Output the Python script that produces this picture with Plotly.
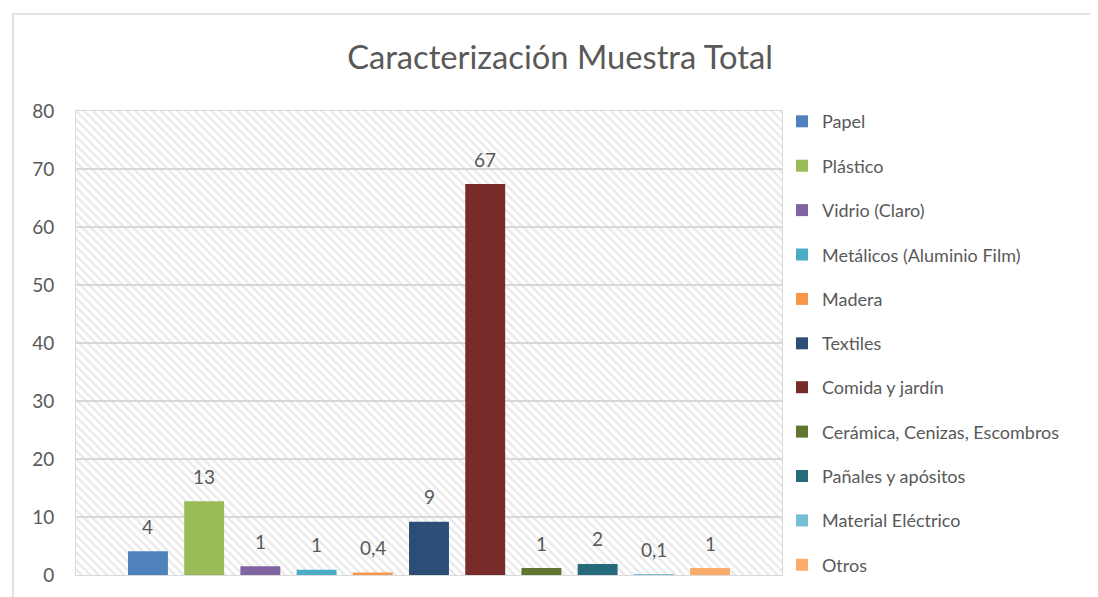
import plotly.graph_objects as go

# Datos de la caracterización
categorias = ["Papel", "Plástico", "Vidrio (Claro)", "Metálicos (Aluminio Film)", "Madera",
              "Textiles", "Comida y jardín", "Cerámica, Cenizas, Escombros",
              "Pañales y apósitos", "Material Eléctrico", "Otros"]
valores = [4.1, 12.7, 1.5, 0.9, 0.45, 9.2, 67.4, 1.2, 1.9, 0.15, 1.2]
etiquetas = ["4", "13", "1", "1", "0,4", "9", "67", "1", "2", "0,1", "1"]
colores = ["#4f81bd", "#9bbb59", "#8064a2", "#4bacc6", "#f79646", "#2c4d75",
           "#772c2a", "#5f7530", "#276a7c", "#72bfd6", "#fbac6a"]
y_ticks = [0, 10, 20, 30, 40, 50, 60, 70, 80]

FONT = "Lato, Roboto, sans-serif"
GRIS = "#595959"

n = len(categorias)
pos = list(range(n))
x_min, x_max = -1.28, n - 1 + 1.28

fig = go.Figure()

# fondo tramado del área de trazado
fig.add_trace(go.Bar(
    x=[(x_min + x_max) / 2], y=[y_ticks[-1]], width=[x_max - x_min],
    marker=dict(color="rgba(0,0,0,0)", line=dict(width=0),
                pattern=dict(shape="\\", fgcolor="#d4d4d4", bgcolor="rgba(0,0,0,0)",
                             size=6, solidity=0.4)),
    showlegend=False, hoverinfo="skip"))

for i, (cat, val, col) in enumerate(zip(categorias, valores, colores)):
    fig.add_trace(go.Bar(x=[pos[i]], y=[val], width=0.71, name=cat,
                         marker=dict(color=col, line=dict(width=0)),
                         legendgroup=cat, legend="legend" if i < 6 else "legend2"))
    fig.add_annotation(x=pos[i], y=val, text=etiquetas[i], showarrow=False,
                       yanchor="middle", yshift=25,
                       font=dict(family=FONT, size=19, color=GRIS))

# borde exterior del gráfico
fig.add_shape(type="rect", xref="paper", yref="paper",
              x0=-0.0892, x1=1.6, y0=-0.2, y1=1.209,
              line=dict(color="#d9d9d9", width=1.5), fillcolor="rgba(0,0,0,0)")

leyenda = dict(xanchor="left", yanchor="top", traceorder="grouped", tracegroupgap=18,
               font=dict(family=FONT, size=18, color=GRIS), itemwidth=30,
               bgcolor="rgba(0,0,0,0)")

# la página añade 8 px de margen, por eso 1090x589
fig.update_layout(
    width=1090, height=589,
    barmode="overlay",
    title=dict(text="Caracterización Muestra Total", x=552 / 1090, xanchor="center",
               y=1 - 50 / 589, yanchor="middle",
               font=dict(family=FONT, size=32.7, color=GRIS)),
    margin=dict(l=68, r=316, t=103, b=22, autoexpand=False),
    plot_bgcolor="white", paper_bgcolor="white",
    font=dict(family=FONT, color=GRIS),
    legend=dict(leyenda, x=1.0, y=1.017),
    legend2=dict(leyenda, x=1.0, y=(575 - 369) / 464),
)
fig.update_xaxes(range=[x_min, x_max], showticklabels=False, showgrid=False,
                 zeroline=False, showline=True, linecolor="#d9d9d9", mirror=True)
fig.update_yaxes(range=[0, 80], tickvals=y_ticks, showgrid=True, gridcolor="#d9d9d9",
                 gridwidth=1.5, zeroline=False, showline=True, linecolor="#d9d9d9",
                 mirror=True, ticklabelstandoff=17,
                 tickfont=dict(family=FONT, size=19, color=GRIS))

fig.write_html("out.html")
